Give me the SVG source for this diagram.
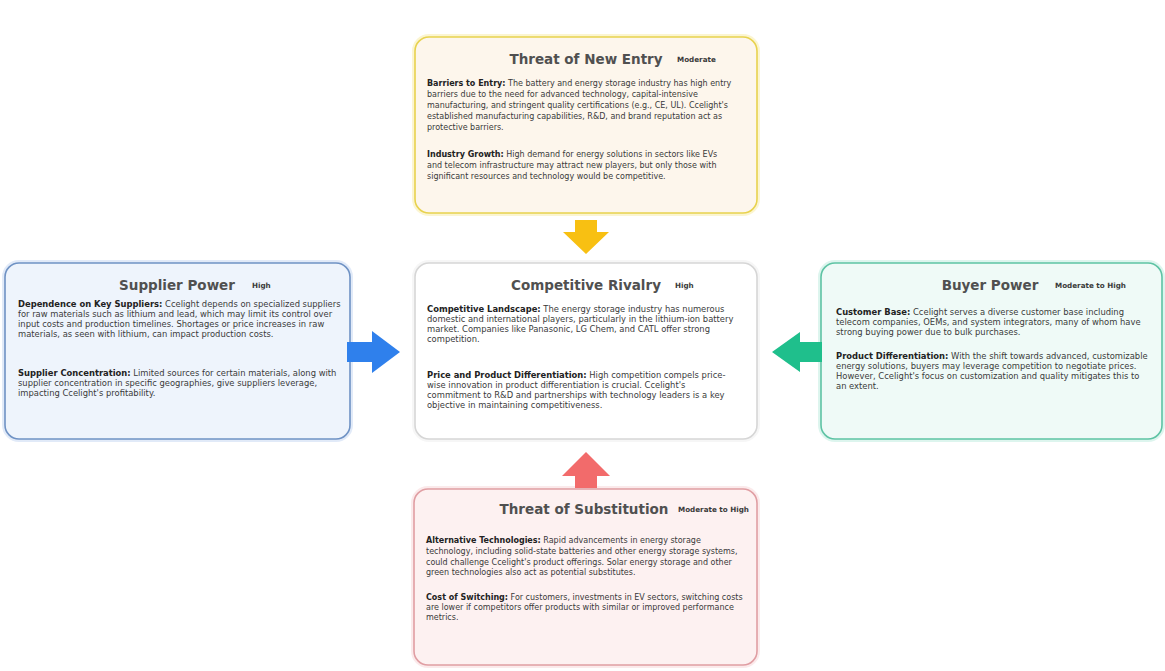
<svg xmlns="http://www.w3.org/2000/svg" width="1165" height="671" viewBox="0 0 1165 671">
<style>
.glow{fill:none;stroke-width:6;opacity:.35}
.box{stroke-width:1.6}
.title{font-family:"DejaVu Sans",Verdana,sans-serif;font-size:13.5px;font-weight:bold;fill:#505050;text-anchor:middle}
.badge{font-family:"DejaVu Sans",Verdana,sans-serif;font-size:7.2px;font-weight:bold;fill:#3a3a3a}
.body{font-family:"DejaVu Sans",Verdana,sans-serif;font-size:8px;fill:#3a3a3a}
.mid{font-size:8.4px}
.b{font-weight:bold;fill:#222}
</style>
<rect width="1165" height="671" fill="#ffffff"/>

<g id="threat-new-entry">
<rect class="glow" x="415" y="37" width="342" height="176" rx="14" stroke="#f3e27a"/>
<rect class="box" x="415" y="37" width="342" height="176" rx="14" fill="#fdf6ec" stroke="#e8d24e"/>
<text class="title" x="586" y="64">Threat of New Entry</text>
<text class="badge" x="677" y="62">Moderate</text>
<text class="body" x="427" y="86"><tspan class="b">Barriers to Entry:</tspan> The battery and energy storage industry has high entry</text>
<text class="body" x="427" y="97">barriers due to the need for advanced technology, capital-intensive</text>
<text class="body" x="427" y="108">manufacturing, and stringent quality certifications (e.g., CE, UL). Ccelight's</text>
<text class="body" x="427" y="119">established manufacturing capabilities, R&amp;D, and brand reputation act as</text>
<text class="body" x="427" y="130">protective barriers.</text>
<text class="body" x="427" y="157"><tspan class="b">Industry Growth:</tspan> High demand for energy solutions in sectors like EVs</text>
<text class="body" x="427" y="168">and telecom infrastructure may attract new players, but only those with</text>
<text class="body" x="427" y="179">significant resources and technology would be competitive.</text>
</g>

<g id="supplier-power">
<rect class="glow" x="5" y="263" width="345" height="176" rx="14" stroke="#a9c4ea"/>
<rect class="box" x="5" y="263" width="345" height="176" rx="14" fill="#eef4fc" stroke="#6f92c4"/>
<text class="title" x="177" y="290">Supplier Power</text>
<text class="badge" x="252" y="288">High</text>
<text class="body mid" x="18" y="307"><tspan class="b">Dependence on Key Suppliers:</tspan> Ccelight depends on specialized suppliers</text>
<text class="body mid" x="18" y="317">for raw materials such as lithium and lead, which may limit its control over</text>
<text class="body mid" x="18" y="327">input costs and production timelines. Shortages or price increases in raw</text>
<text class="body mid" x="18" y="337">materials, as seen with lithium, can impact production costs.</text>
<text class="body mid" x="18" y="376"><tspan class="b">Supplier Concentration:</tspan> Limited sources for certain materials, along with</text>
<text class="body mid" x="18" y="386">supplier concentration in specific geographies, give suppliers leverage,</text>
<text class="body mid" x="18" y="396">impacting Ccelight's profitability.</text>
</g>

<g id="competitive-rivalry">
<rect class="glow" x="415" y="263" width="342" height="176" rx="14" stroke="#e6e6e6"/>
<rect class="box" x="415" y="263" width="342" height="176" rx="14" fill="#ffffff" stroke="#d6d6d6"/>
<text class="title" x="586" y="290">Competitive Rivalry</text>
<text class="badge" x="675" y="288">High</text>
<text class="body mid" x="427" y="312"><tspan class="b">Competitive Landscape:</tspan> The energy storage industry has numerous</text>
<text class="body mid" x="427" y="322">domestic and international players, particularly in the lithium-ion battery</text>
<text class="body mid" x="427" y="332">market. Companies like Panasonic, LG Chem, and CATL offer strong</text>
<text class="body mid" x="427" y="342">competition.</text>
<text class="body mid" x="427" y="378"><tspan class="b">Price and Product Differentiation:</tspan> High competition compels price-</text>
<text class="body mid" x="427" y="388">wise innovation in product differentiation is crucial. Ccelight's</text>
<text class="body mid" x="427" y="398">commitment to R&amp;D and partnerships with technology leaders is a key</text>
<text class="body mid" x="427" y="408">objective in maintaining competitiveness.</text>
</g>

<g id="buyer-power">
<rect class="glow" x="821" y="263" width="341" height="176" rx="14" stroke="#9fe3cf"/>
<rect class="box" x="821" y="263" width="341" height="176" rx="14" fill="#effaf7" stroke="#5ec3a4"/>
<text class="title" x="990" y="290">Buyer Power</text>
<text class="badge" x="1055" y="288">Moderate to High</text>
<text class="body mid" x="836" y="315"><tspan class="b">Customer Base:</tspan> Ccelight serves a diverse customer base including</text>
<text class="body mid" x="836" y="325">telecom companies, OEMs, and system integrators, many of whom have</text>
<text class="body mid" x="836" y="335">strong buying power due to bulk purchases.</text>
<text class="body mid" x="836" y="359"><tspan class="b">Product Differentiation:</tspan> With the shift towards advanced, customizable</text>
<text class="body mid" x="836" y="369">energy solutions, buyers may leverage competition to negotiate prices.</text>
<text class="body mid" x="836" y="379">However, Ccelight's focus on customization and quality mitigates this to</text>
<text class="body mid" x="836" y="389">an extent.</text>
</g>

<g id="threat-substitution">
<rect class="glow" x="414" y="489" width="343" height="176" rx="14" stroke="#f3c3c6"/>
<rect class="box" x="414" y="489" width="343" height="176" rx="14" fill="#fdf1f1" stroke="#e09ea3"/>
<text class="title" x="584" y="514">Threat of Substitution</text>
<text class="badge" x="678" y="512">Moderate to High</text>
<text class="body" x="426" y="543"><tspan class="b">Alternative Technologies:</tspan> Rapid advancements in energy storage</text>
<text class="body" x="426" y="554">technology, including solid-state batteries and other energy storage systems,</text>
<text class="body" x="426" y="565">could challenge Ccelight's product offerings. Solar energy storage and other</text>
<text class="body" x="426" y="575">green technologies also act as potential substitutes.</text>
<text class="body" x="426" y="600"><tspan class="b">Cost of Switching:</tspan> For customers, investments in EV sectors, switching costs</text>
<text class="body" x="426" y="610">are lower if competitors offer products with similar or improved performance</text>
<text class="body" x="426" y="620">metrics.</text>
</g>

<g id="connectors">
<polygon points="575,220 597,220 597,232 609,232 586,254 563,232 575,232" fill="#f8c012"/>
<polygon points="347,342 372,342 372,331 400,352 372,373 372,362 347,362" fill="#2f80ec"/>
<polygon points="822,342 800,342 800,332 772,352 800,372 800,362 822,362" fill="#1fbf8c"/>
<polygon points="575,488 597,488 597,476 610,476 586,452 562,476 575,476" fill="#f26b6b"/>
</g>
</svg>
